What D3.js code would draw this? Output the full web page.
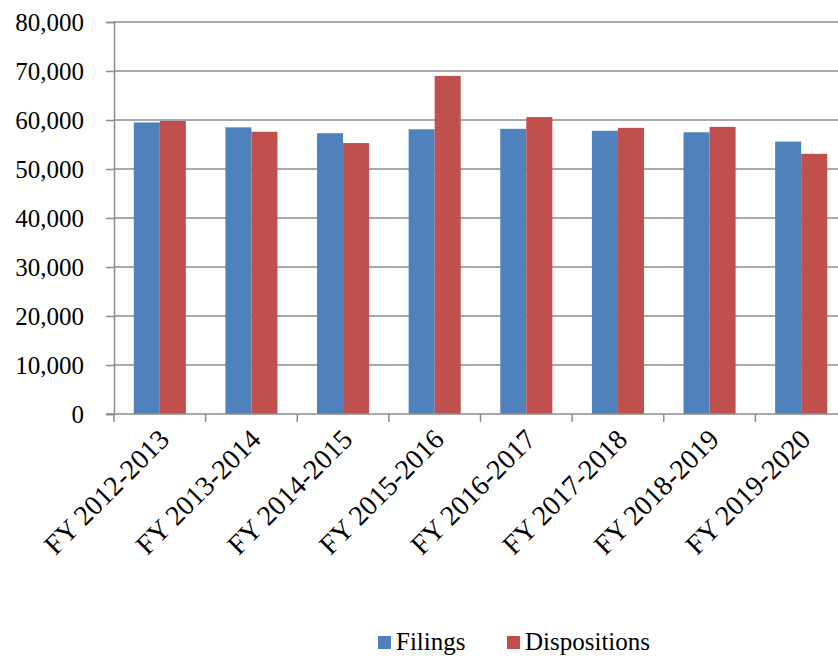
<!DOCTYPE html>
<html><head><meta charset="utf-8">
<script src="https://cdn.jsdelivr.net/npm/d3@7"></script>
<style>body{margin:0;background:#fff}svg{display:block}</style>
</head><body>
<script>
const categories = ["FY 2012-2013","FY 2013-2014","FY 2014-2015","FY 2015-2016","FY 2016-2017","FY 2017-2018","FY 2018-2019","FY 2019-2020"];
const filings = [59500, 58500, 57300, 58100, 58200, 57800, 57500, 55600];
const dispositions = [59800, 57600, 55300, 69000, 60600, 58400, 58600, 53100];
const seriesNames = ["Filings","Dispositions"];
const colors = ["#4F81BD","#C0504D"];
const yTicks = [0,10000,20000,30000,40000,50000,60000,70000,80000];

const W = 838, H = 658;
const svg = d3.select("body").append("svg").attr("width", W).attr("height", H);
const x0 = 114, x1 = 847, yTop = 22, yBot = 414;
const x = d3.scaleBand().domain(categories).range([x0, x1]).paddingInner(0).paddingOuter(0);
const y = d3.scaleLinear().domain([0, 80000]).range([yBot, yTop]);
const inner = d3.scaleBand().domain(seriesNames).range([0, x.bandwidth()]).paddingInner(0).paddingOuter(0.76);

const font = "'Liberation Serif','Times New Roman',serif";

// gridlines
svg.append("g").selectAll("line").data(yTicks.filter(d => d > 0)).join("line")
  .attr("x1", x0).attr("x2", W).attr("y1", d => y(d)).attr("y2", d => y(d))
  .attr("stroke", "#8c8c8c").attr("stroke-width", 1.5);

// y axis
const yAxis = svg.append("g").attr("transform", `translate(${x0},0)`)
  .call(d3.axisLeft(y).tickValues(yTicks).tickSize(8).tickPadding(22).tickFormat(d3.format(",")));
yAxis.select(".domain").attr("stroke", "#8c8c8c").attr("stroke-width", 1.5);
yAxis.selectAll(".tick line").attr("stroke", "#8c8c8c").attr("stroke-width", 1.5);
yAxis.selectAll("text").attr("font-family", font).attr("font-size", 25).attr("fill", "#000");

// bars
const data = categories.map((c, i) => ({c, vals: [filings[i], dispositions[i]]}));
const groups = svg.append("g").selectAll("g").data(data).join("g")
  .attr("transform", d => `translate(${x(d.c)},0)`);
groups.selectAll("rect").data(d => d.vals.map((v, j) => ({v, s: seriesNames[j], j}))).join("rect")
  .attr("x", d => inner(d.s)).attr("width", inner.bandwidth())
  .attr("y", d => y(d.v)).attr("height", d => y(0) - y(d.v))
  .attr("fill", d => colors[d.j]);

// x axis
const xAxis = svg.append("g").attr("transform", `translate(0,${yBot})`)
  .call(d3.axisBottom(x).tickSize(0).tickFormat(d => d));
xAxis.select(".domain").remove();
svg.append("line").attr("x1", x0 - 8).attr("x2", W).attr("y1", yBot).attr("y2", yBot)
  .attr("stroke", "#8c8c8c").attr("stroke-width", 1.5);
const tickPos = categories.map(c => x(c)).concat([x1]);
svg.append("g").selectAll("line").data(tickPos).join("line")
  .attr("x1", d => d).attr("x2", d => d).attr("y1", yBot).attr("y2", yBot + 8)
  .attr("stroke", "#8c8c8c").attr("stroke-width", 1.5);
xAxis.selectAll("text")
  .attr("font-family", font).attr("font-size", 28).attr("fill", "#000")
  .attr("text-anchor", "end").attr("dy", "0.35em")
  .attr("transform", "translate(2,18) rotate(-45)");

// legend
const leg = svg.append("g");
const legX = [378, 507];
seriesNames.forEach((s, i) => {
  leg.append("rect").attr("x", legX[i]).attr("y", 636).attr("width", 13).attr("height", 13).attr("fill", colors[i]);
  leg.append("text").attr("x", legX[i] + 18).attr("y", 650).text(s)
    .attr("font-family", font).attr("font-size", 25).attr("fill", "#000");
});
</script>
</body></html>
